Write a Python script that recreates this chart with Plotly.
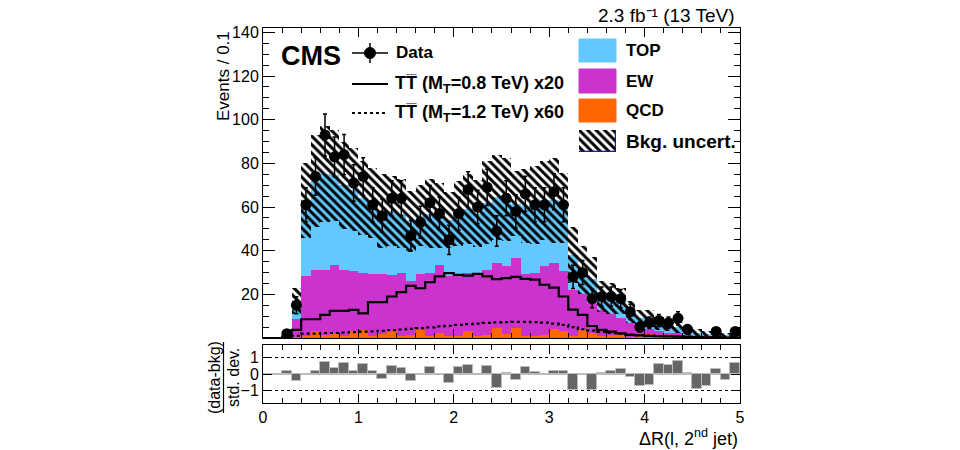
import numpy as np
import plotly.graph_objects as go

# ---------------- data ----------------
bin_width = 0.1
bin_lo = 0.0
n_bins = 50

data = [0, 0, 2, 15, 61, 74, 93, 83, 84, 71, 74, 61, 56, 64, 64, 47, 53, 62, 57, 45,
        57, 68, 60, 69, 49, 64, 58, 66, 61, 61, 67, 61, 28, 30, 18, 19, 19, 18, 12, 5,
        7, 8, 7, 9, 4, 0, 0, 3, 0, 3]
data_err = [0, 0, 1.4, 3.9, 7.8, 8.6, 9.6, 9.1, 9.2, 8.4, 8.6, 7.8, 7.5, 8.0, 8.0, 6.9, 7.3, 7.9, 7.5, 6.7,
            7.5, 8.2, 7.7, 8.3, 7.0, 8.0, 7.6, 8.1, 7.8, 7.8, 8.2, 7.8, 5.3, 5.5, 4.2, 4.4, 4.4, 4.2, 3.5, 2.2,
            2.6, 2.8, 2.6, 3.0, 2.0, 0, 0, 1.7, 0, 1.7]

qcd = [0, 0, 0, 0.5, 1, 3, 1.5, 2, 1, 3, 3.5, 1, 2, 3, 1, 1.5, 3.5, 1, 2.5, 1,
       1, 3, 1, 1.5, 4.5, 2, 4.5, 1, 1, 1.5, 4, 3, 1, 3.5, 2.5, 1, 1.5, 2, 0.5, 1,
       2, 0.3, 0.3, 0.2, 0.2, 0.1, 0.1, 0.1, 0.1, 0.1]
ew = [0, 0, 0.5, 8.1, 27.5, 28.3, 29.8, 31.6, 30, 27.5, 26.5, 28.5, 27.4, 25.8, 28.7, 24.7, 25.9, 28.7, 31.1, 27.2,
      28, 27, 28.4, 29.5, 29.8, 30.8, 32.1, 28.5, 29, 31.3, 30.3, 27.5, 21, 16.5, 13.5, 12, 9.5, 7, 6.5, 4,
      2, 2.7, 2.2, 2.3, 1.3, 0.9, 0.7, 0.6, 0.5, 0.4]
top = [0, 0, 0.5, 8.4, 34.5, 40.7, 43.7, 40.9, 39, 37.5, 34, 32.5, 28.6, 29.2, 27.3, 27.3, 26.6, 27.3, 22.4, 25.8,
       28, 29, 27.6, 31, 30.2, 30.7, 24.9, 30.9, 31, 30.2, 28.7, 29, 16, 11, 11, 6, 7, 8, 5, 4,
       5, 3.5, 3, 2.5, 2, 1.5, 1.2, 1.3, 0.9, 1.0]
bkg_unc = [0, 0, 0.8, 6, 17, 21, 22, 21, 20, 19, 17, 16, 17, 16, 16, 14, 14, 16, 15, 13,
           15, 16, 15.5, 19, 19.5, 19, 15, 17, 18, 18, 19.5, 16, 13, 11, 10, 7, 7, 6, 5, 4,
           4, 3, 2.5, 2.5, 2, 1.5, 1.2, 1.2, 1, 1]

sig_08 = [0, 0, 0.5, 3.7, 8.6, 8.6, 10.6, 12.4, 12.4, 12.9, 11.3, 16.4, 16.4, 19, 21, 23.9, 22.8, 25.6, 28.2, 29.7,
          28.9, 28.6, 29.4, 28.2, 27, 27.4, 28, 27.1, 26.7, 24.4, 23.1, 19, 13, 10.6, 5.5, 3.7, 2.9, 2.1, 1.4, 1.2,
          1.0, 0.8, 0.7, 0.6, 0.5, 0.4, 0.3, 0.3, 0.2, 0.2]
sig_12 = [0, 0, 0.2, 1.0, 2.0, 2.0, 2.3, 2.3, 2.5, 2.7, 2.9, 3.0, 3.3, 3.6, 3.9, 4.2, 4.5, 4.9, 5.3, 5.6,
          6.0, 6.4, 6.6, 6.9, 7.2, 7.3, 7.4, 7.4, 7.3, 7.0, 6.6, 6.0, 5.0, 4.0, 3.4, 2.8, 2.3, 1.9, 1.6, 1.3,
          1.1, 0.9, 0.8, 0.7, 0.6, 0.5, 0.4, 0.3, 0.3, 0.2]

pull = [0, 0, 0.17, -0.45, -0.03, 0.17, 0.77, 0.35, 0.67, 0.17, 0.6, 0.19, -0.3, 0.52, 0.37, -0.45, 0.0, 0.41, -0.02, -0.58,
        0.45, 0.54, 0.0, 0.47, -0.88, 0.04, -0.37, 0.43, 0.15, -0.09, 0.17, 0.17, -0.99, 0.0, -0.99, 0.09, 0.19, 0.28, -0.19, -0.77,
        -0.69, 0.6, 0.54, 0.82, 0.06, -0.95, -0.75, 0.32, -0.39, 0.67]

y_ticks = [20, 40, 60, 80, 100, 120, 140]
x_ticks = [0, 1, 2, 3, 4, 5]
pull_ticks = [-1, 0, 1]
pull_ticktext = ["\u22121", "0", "1"]

# ---------------- derived ----------------
centers = bin_lo + bin_width * (np.arange(n_bins) + 0.5)
edges = bin_lo + bin_width * np.arange(n_bins + 1)
qcd_a, ew_a, top_a, unc_a = map(np.array, (qcd, ew, top, bkg_unc))
base_ew = qcd_a
base_top = qcd_a + ew_a
total = qcd_a + ew_a + top_a
data_a = np.array(data, dtype=float)
err_a = np.array(data_err)
mask = data_a > 0

C_TOP = "#63C8FF"
C_EW = "#CC33CC"
C_QCD = "#FF6600"
FONT = "Liberation Sans"

OFF = 8                      # page body margin
W, H = 960 - OFF, 450 - OFF
L, R, T, B = 263, 740, 28, 403   # plot area in screen pixels


def px(x):
    return (x - L) / (R - L)


def py(y):
    return (B - y) / (B - T)


fig = go.Figure()

hatch = dict(shape="\\", fgcolor="black", fgopacity=1, size=6, solidity=0.5)

bar_common = dict(width=bin_width, xaxis="x", yaxis="y", showlegend=False,
                  hoverinfo="skip")
fig.add_trace(go.Bar(x=centers, y=qcd_a, base=0, marker=dict(color=C_QCD, line_width=0), **bar_common))
fig.add_trace(go.Bar(x=centers, y=ew_a, base=base_ew, marker=dict(color=C_EW, line_width=0), **bar_common))
fig.add_trace(go.Bar(x=centers, y=top_a, base=base_top, marker=dict(color=C_TOP, line_width=0), **bar_common))
fig.add_trace(go.Bar(x=centers, y=2 * unc_a, base=total - unc_a,
                     marker=dict(color="rgba(0,0,0,0)", line_width=0,
                                 pattern=dict(bgcolor="rgba(0,0,0,0)", fillmode="replace", **hatch)),
                     **bar_common))

# signal step lines
fig.add_trace(go.Scatter(x=edges, y=list(sig_08) + [sig_08[-1]], mode="lines",
                         line=dict(color="black", width=2.2, shape="hv"),
                         xaxis="x", yaxis="y", showlegend=False, hoverinfo="skip"))
fig.add_trace(go.Scatter(x=edges, y=list(sig_12) + [sig_12[-1]], mode="lines",
                         line=dict(color="black", width=2.2, shape="hv", dash="dot"),
                         xaxis="x", yaxis="y", showlegend=False, hoverinfo="skip"))

# data
fig.add_trace(go.Scatter(x=centers[mask], y=data_a[mask], mode="markers",
                         marker=dict(color="black", size=11, symbol="circle"),
                         error_y=dict(type="data", array=err_a[mask], color="black",
                                      thickness=1.5, width=2),
                         xaxis="x", yaxis="y", showlegend=False, hoverinfo="skip"))

# pull panel
fig.add_trace(go.Bar(x=centers, y=pull, base=0, width=bin_width,
                     marker=dict(color="#666666", line=dict(color="#bbbbbb", width=1)),
                     xaxis="x2", yaxis="y2", showlegend=False, hoverinfo="skip"))

# legend hatch box on an auxiliary axis
fig.add_trace(go.Bar(x=[0.5], y=[1], width=[1], base=0,
                     marker=dict(color="white", line=dict(color="#1a1a8c", width=1.2),
                                 pattern=dict(bgcolor="white", **hatch)),
                     xaxis="x3", yaxis="y3", showlegend=False, hoverinfo="skip"))

tickfont = dict(family=FONT, size=16, color="black")
axis_common = dict(showline=True, linecolor="black", linewidth=1, mirror="allticks",
                   ticks="inside", tickcolor="black", showgrid=False, zeroline=False,
                   tickfont=tickfont)

fig.update_layout(
    width=W, height=H,
    margin=dict(l=L - OFF, r=W + OFF - R, t=T - OFF, b=H + OFF - B, pad=0),
    paper_bgcolor="white", plot_bgcolor="white",
    barmode="overlay", bargap=0,
    font=dict(family=FONT, color="black"),
    xaxis=dict(domain=[0, 1], anchor="y", range=[0, 5], tickvals=x_ticks, ticklen=9,
               showticklabels=False, minor=dict(dtick=0.2, ticklen=5, ticks="inside", tickcolor="black"),
               **axis_common),
    yaxis=dict(domain=[py(338), 1], anchor="x", range=[0, 142], tickvals=y_ticks, ticklen=12,
               minor=dict(dtick=5, ticklen=6, ticks="inside", tickcolor="black"),
               **axis_common),
    xaxis2=dict(domain=[0, 1], anchor="y2", range=[0, 5], tickvals=x_ticks, ticklen=9,
                minor=dict(dtick=0.2, ticklen=5, ticks="inside", tickcolor="black"),
                **axis_common),
    yaxis2=dict(domain=[0, py(345)], anchor="x2", range=[-1.8, 1.8], tickvals=pull_ticks,
                ticktext=pull_ticktext, ticklen=9,
                **{k: v for k, v in axis_common.items() if k not in ("showgrid", "zeroline")},
                showgrid=True, gridcolor="black", griddash="dot", gridwidth=1,
                zeroline=True, zerolinecolor="#bbbbbb", zerolinewidth=1),
    xaxis3=dict(domain=[px(579), px(616)], anchor="y3", range=[0, 1], visible=False, fixedrange=True),
    yaxis3=dict(domain=[py(152), py(130)], anchor="x3", range=[0, 1], visible=False, fixedrange=True),
)

shapes = []
ann = []


def text(x, y, s, size, xanchor="left", bold=False, angle=0, yanchor="middle"):
    ann.append(dict(x=px(x), y=py(y), xref="paper", yref="paper", text=(f"<b>{s}</b>" if bold else s),
                    showarrow=False, xanchor=xanchor, yanchor=yanchor, textangle=angle,
                    font=dict(family=FONT, size=size, color="black")))


# CMS label and lumi
text(279, 56, "CMS", 27, bold=True)
text(737, 16, "2.3 fb\u207b\u00b9 (13 TeV)", 19, xanchor="right")

# axis titles
text(223, 76, "Events / 0.1", 17, xanchor="center", angle=-90)
text(740, 437, "\u0394R(l, 2<sup>nd</sup> jet)", 18, xanchor="right")
text(214, 378, "(data-bkg)", 16, xanchor="center", angle=-90)
text(233, 378, "std. dev.", 16, xanchor="center", angle=-90)
shapes.append(dict(type="line", xref="paper", yref="paper", x0=px(223.5), x1=px(223.5),
                   y0=py(342), y1=py(413), line=dict(color="black", width=1.2)))

# left legend
ly = [53, 84, 113]
shapes.append(dict(type="line", xref="paper", yref="paper", x0=px(352), x1=px(388), y0=py(ly[0]), y1=py(ly[0]),
                   line=dict(color="black", width=1.5)))
shapes.append(dict(type="line", xref="paper", yref="paper", x0=px(370), x1=px(370), y0=py(ly[0] - 10),
                   y1=py(ly[0] + 10), line=dict(color="black", width=1.5)))
shapes.append(dict(type="circle", xref="paper", yref="paper", x0=px(364.5), x1=px(375.5), y0=py(ly[0] + 5.5),
                   y1=py(ly[0] - 5.5), fillcolor="black", line=dict(color="black", width=1)))
text(394, ly[0], "Data", 17, bold=True)
shapes.append(dict(type="line", xref="paper", yref="paper", x0=px(352), x1=px(388), y0=py(ly[1]), y1=py(ly[1]),
                   line=dict(color="black", width=2.2)))
text(393, ly[1], "TT\u0305 (M<sub>T</sub>=0.8 TeV) x20", 18, bold=True)
shapes.append(dict(type="line", xref="paper", yref="paper", x0=px(352), x1=px(388), y0=py(ly[2]), y1=py(ly[2]),
                   line=dict(color="black", width=2.2, dash="dot")))
text(393, ly[2], "TT\u0305 (M<sub>T</sub>=1.2 TeV) x60", 18, bold=True)

# right legend
for (y0, y1, col, lab) in [(39, 62, C_TOP, "TOP"), (69, 93, C_EW, "EW"), (99, 122, C_QCD, "QCD")]:
    shapes.append(dict(type="rect", xref="paper", yref="paper", x0=px(579), x1=px(616), y0=py(y1), y1=py(y0),
                       fillcolor=col, line=dict(color=col, width=1)))
    text(624, (y0 + y1) / 2, lab, 17, bold=True)
text(624, 141, "Bkg. uncert.", 19, bold=True)

fig.update_layout(shapes=shapes, annotations=ann)
fig.write_html("out.html")
